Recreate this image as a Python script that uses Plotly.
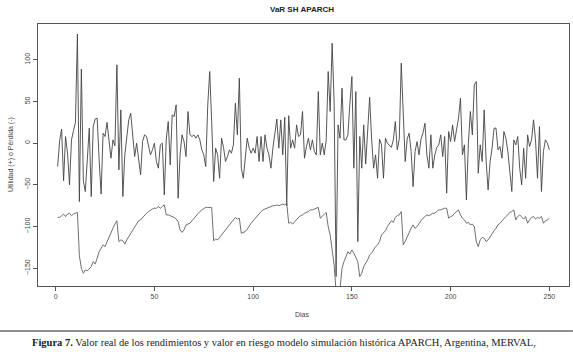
import plotly.graph_objects as go

days = list(range(1, 251))

returns = [
    -28, 3, 17, -45, 8, -12, -50, 4, 15, 25,
    131, -70, 89, -45, -58, -12, 18, -64, 20, 29,
    30, -20, -61, 12, 8, 25, 5, -18, 4, -3,
    94, -32, 40, -64, -14, 5, 28, 36, 8, -16,
    0, -22, -38, 2, 10, 8, -5, -14, -8, 0,
    -22, -30, -2, 0, -62, 5, 26, -26, 34, 32,
    46, -66, -14, 10, 2, -16, 38, 10, 8, 10,
    6, 10, 4, -8, -14, -28, 45, 86, 26, -46,
    -6, -14, -42, 6, -5, -22, -16, -8, -12, -2,
    48, 10, 78, -30, -42, -18, 6, -6, -12, -6,
    -12, 8, -22, 8, -22, 10, -6, -14, -30, -6,
    10, 29, -6, 28, -14, 31, -75, 33, -6, 4,
    -6, 22, 8, 10, 38, -18, -4, 6, -8, 4,
    -10, -14, 62, -14, 0, -14, 4, 86, 38, 120,
    50, -160, 22, 6, 66, 4, 4, 10, 48, 80,
    -30, 62, -118, 8, -30, 22, -25, 20, 55, 5,
    -30, -14, -42, 5, -2, -42, 6, 0, -2, -5,
    4, 26, -8, 5, 96, 25, -22, 5, 12, -10,
    -52, -10, 2, -14, 5, 12, 24, -14, -30, 10,
    -30, -14, -5, -2, 10, -16, 8, -60, 14, 2,
    22, 2, 14, 30, 54, -14, -2, -68, 0, 38,
    10, 70, 74, -36, -2, -22, 40, -22, -56, -22,
    -6, 18, 18, -8, -4, -18, 14, 6, -10, -34,
    -58, 4, -2, 8, -30, -50, -6, -42, 10, -4,
    4, 28, 4, -42, 20, -58, -10, 4, 0, -8,
]

var_sh = [
    -89, -89, -87, -85, -88, -85, -84, -87, -85, -84,
    -83, -135, -150, -156, -152, -153, -150, -148, -142, -145,
    -138, -130, -126, -122, -124, -118, -112, -107, -102, -97,
    -93, -118, -116, -117, -121, -116, -112, -108, -104, -100,
    -97, -93, -92, -89, -86, -84, -82, -80, -79, -78,
    -78, -76, -78, -76, -74, -86, -86, -87, -88, -89,
    -91, -94, -104, -107, -104, -98, -97, -96, -93, -90,
    -87, -84, -82, -80, -78, -77, -77, -77, -77, -117,
    -115, -116, -113, -110, -106, -104, -101, -98, -95, -92,
    -89, -91, -90, -108, -107, -106, -103, -99, -96, -93,
    -90, -87, -84, -82, -80, -79, -78, -77, -76, -75,
    -75, -74, -75, -74, -73, -74, -72, -96, -95, -97,
    -94, -91, -89, -87, -86, -84, -83, -82, -80, -80,
    -79, -78, -77, -90, -88, -85, -83, -100, -110, -128,
    -146, -178, -185, -175, -150, -142, -135, -130, -133, -128,
    -132, -138, -142, -160, -156, -148, -144, -140, -134, -132,
    -128, -124, -122, -118, -110, -108, -105, -100, -96, -93,
    -95, -89, -87, -86, -82, -122, -118, -112, -106, -102,
    -98, -102, -100, -96, -93, -90, -88, -86, -87, -85,
    -84, -84, -82, -80, -80, -79, -78, -78, -90, -88,
    -87, -84, -82, -80, -86, -90, -92, -96, -95, -98,
    -97, -100, -118, -124, -116, -113, -114, -118, -116, -112,
    -108, -105, -102, -98, -96, -93, -90, -88, -86, -83,
    -82, -80, -92, -88, -86, -89, -91, -88, -96, -92,
    -89, -88, -91, -89, -90, -88, -96, -93, -92, -90,
]

x_ticks = [0, 50, 100, 150, 200, 250]
y_ticks = [-150, -100, -50, 0, 50, 100]

title_text = "VaR SH APARCH"
x_label = "Dias"
y_label = "Utilidad (+) o Pérdida (-)"
caption = ("<b>Figura 7.</b> Valor real de los rendimientos y valor en riesgo "
           "modelo simulación histórica APARCH, Argentina, MERVAL,")

fig = go.Figure()
fig.add_trace(go.Scatter(x=days, y=returns, mode="lines",
                         line=dict(color="#444444", width=0.9), showlegend=False))
fig.add_trace(go.Scatter(x=days, y=var_sh, mode="lines",
                         line=dict(color="#606060", width=0.9), showlegend=False))

axis_common = dict(showgrid=False, zeroline=False, showline=True, mirror=True,
                   linecolor="#555555", linewidth=1, ticks="outside", ticklen=4,
                   tickcolor="#555555",
                   tickfont=dict(family="Liberation Sans, Arial", size=7, color="#444444"))

fig.update_xaxes(range=[-8.96, 259.96], tickvals=x_ticks, **axis_common)
fig.update_yaxes(range=[-171.3, 143], tickvals=y_ticks, tickangle=-90, **axis_common)

fig.update_layout(
    width=573, height=354,
    margin=dict(l=38, r=4, t=24, b=68),
    paper_bgcolor="white", plot_bgcolor="white",
    annotations=[
        dict(text="<b>" + title_text + "</b>", xref="paper", yref="paper", x=0.497, y=1.057,
             showarrow=False, xanchor="center", yanchor="middle",
             font=dict(family="Liberation Sans, Arial", size=8, color="#222222")),
        dict(text=x_label, xref="paper", yref="paper", x=0.499, y=-0.107,
             showarrow=False, xanchor="center", yanchor="middle",
             font=dict(family="Liberation Sans, Arial", size=7, color="#444444")),
        dict(text=y_label, xref="paper", yref="paper", x=-0.0508, y=0.5,
             showarrow=False, xanchor="center", yanchor="middle", textangle=-90,
             font=dict(family="Liberation Sans, Arial", size=7, color="#444444")),
        dict(text=caption, xref="paper", yref="paper", x=-0.0151, y=-0.2164,
             showarrow=False, xanchor="left", yanchor="middle",
             font=dict(family="Liberation Serif, serif", size=10.5, color="#222222")),
    ],
    shapes=[
        dict(type="line", xref="paper", yref="paper", x0=-0.0716, x1=1.0075,
             y0=-0.1718, y1=-0.1718, line=dict(color="#222222", width=1)),
    ],
)

fig.write_html("out.html", config={"displayModeBar": False},
               post_script="document.body.style.margin='0';document.body.style.overflow='hidden';")
